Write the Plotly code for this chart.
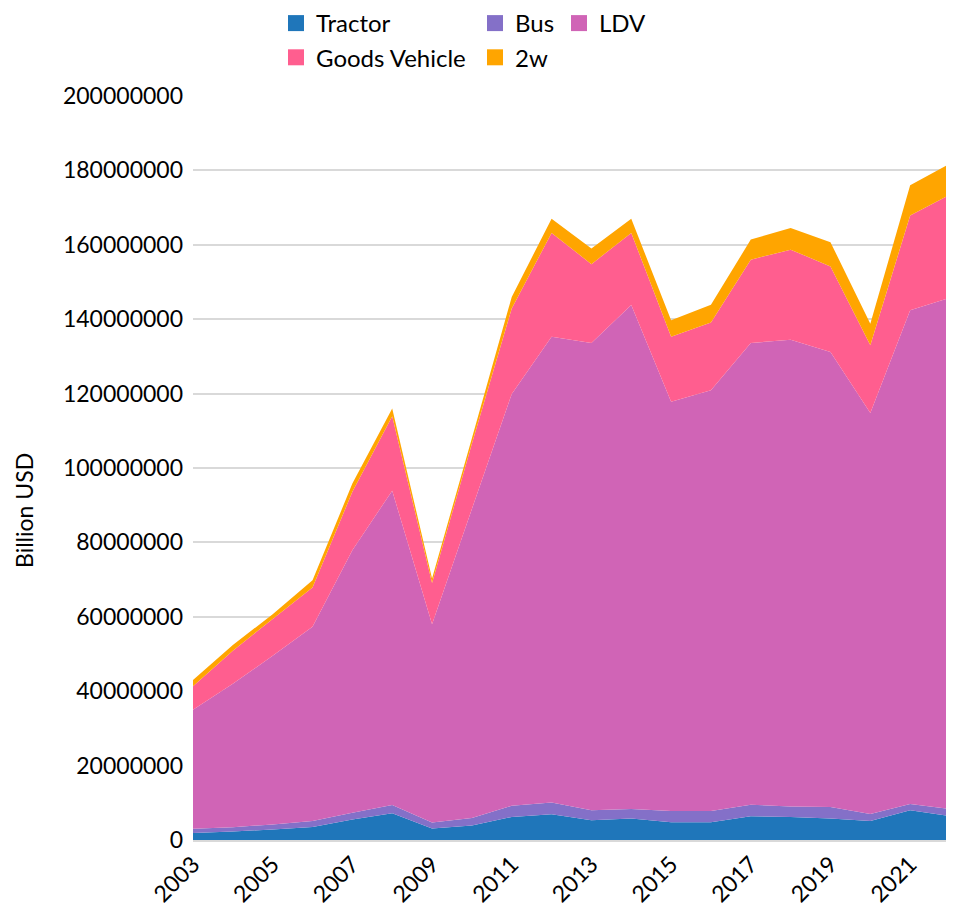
import plotly.graph_objects as go

years = list(range(2003, 2023))
tractor = [1.9, 2.3, 2.8, 3.5, 5.5, 7.2, 3.1, 3.9, 6.2, 6.9, 5.3, 5.8, 4.8, 4.8, 6.4, 6.2, 5.8, 5.1, 8.0, 6.4]
bus = [1.1, 1.1, 1.4, 1.6, 1.8, 2.2, 1.6, 2.0, 3.0, 3.2, 2.7, 2.5, 3.0, 3.0, 3.1, 2.8, 3.1, 1.9, 1.7, 1.9]
ldv = [32.0, 38.6, 45.3, 52.2, 70.6, 84.5, 53.3, 83.1, 110.7, 125.2, 125.6, 135.5, 110.0, 113.1, 124.1, 125.5, 122.3, 107.8, 132.7, 137.5]
goods = [6.3, 8.9, 9.9, 10.6, 15.7, 20.0, 11.1, 17.5, 23.0, 27.9, 21.2, 19.4, 17.5, 18.2, 22.4, 24.2, 23.0, 18.2, 25.5, 27.7]
two_w = [1.7, 1.5, 1.3, 1.9, 2.2, 2.1, 1.2, 1.5, 3.1, 3.8, 4.2, 3.8, 4.4, 4.8, 5.4, 5.8, 6.5, 5.8, 8.1, 8.3]

series = [
    ("Tractor", tractor, "#1F76BA", "legend"),
    ("Bus", bus, "#8470C8", "legend2"),
    ("LDV", ldv, "#D064B6", "legend3"),
    ("Goods Vehicle", goods, "#FF5E8F", "legend"),
    ("2w", two_w, "#FFA500", "legend2"),
]

FONT = "Lato, 'Open Sans', sans-serif"
fig = go.Figure()
for name, vals, color, _ in series:
    fig.add_trace(go.Scatter(
        x=years, y=[v * 1e6 for v in vals], name=name, mode="none",
        stackgroup="one", fillcolor=color, showlegend=False,
        hoverinfo="x+y+name",
    ))
for name, vals, color, lg in series:
    fig.add_trace(go.Scatter(
        x=[None], y=[None], name=name, mode="markers",
        marker=dict(symbol="square", size=16, color=color),
        legend=lg, legendgroup=name, showlegend=True,
    ))

W, H = 954, 906
legend_common = dict(
    orientation="v", xanchor="left", yanchor="top",
    xref="container", yref="paper", y=1.0 + (88 + 7) / 744,
    font=dict(family=FONT, size=24, color="#000000"),
    bgcolor="rgba(0,0,0,0)", itemwidth=30, tracegroupgap=0,
    traceorder="grouped",
)
fig.update_layout(
    width=W, height=H,
    margin=dict(l=185, r=12, t=88, b=74, autoexpand=False),
    paper_bgcolor="white", plot_bgcolor="white",
    font=dict(family=FONT, size=23, color="#000000"),
    legend=dict(x=268 / W, **legend_common),
    legend2=dict(x=467 / W, **legend_common),
    legend3=dict(x=551 / W, **legend_common),
    xaxis=dict(
        range=[2003, 2022], tickmode="array",
        tickvals=list(range(2003, 2022, 2)),
        ticktext=[str(y) for y in range(2003, 2022, 2)],
        tickangle=-45, showgrid=False, zeroline=False,
        showline=True, linecolor="#D9D9D9", linewidth=1.5,
        ticks="", tickfont=dict(family=FONT, size=23), automargin=False,
    ),
    yaxis=dict(
        range=[0, 200e6], tickmode="array",
        tickvals=[i * 20e6 for i in range(11)],
        ticktext=[str(i * 20000000) for i in range(11)],
        showgrid=True, gridcolor="#D9D9D9", gridwidth=1.5,
        zeroline=False, ticks="", ticklabelstandoff=9,
        tickfont=dict(family=FONT, size=23), automargin=False,
    ),
    annotations=[dict(
        text="Billion USD", textangle=-90, xref="paper", yref="paper",
        x=(0 - 185) / 757, y=(832 - 503) / 744, showarrow=False,
        xanchor="left", yanchor="middle",
        font=dict(family=FONT, size=23, color="#000000"),
    )],
)
fig.write_html("out.html")
